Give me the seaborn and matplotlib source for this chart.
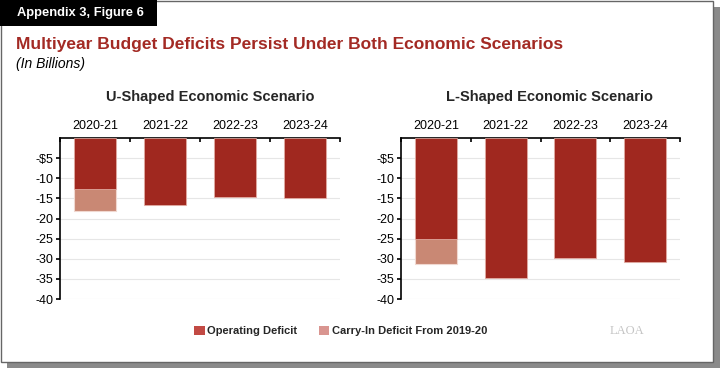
import pandas as pd
import matplotlib.pyplot as plt
import seaborn as sns
from matplotlib.patches import Rectangle, Patch

# Data (billions)
years = ['2020-21', '2021-22', '2022-23', '2023-24']
u_operating = [-12.6, -16.7, -14.7, -15.0]
u_carry_in = [-5.5, 0, 0, 0]
l_operating = [-25.0, -34.7, -29.7, -30.7]
l_carry_in = [-6.3, 0, 0, 0]

panel_titles = ['U-Shaped Economic Scenario', 'L-Shaped Economic Scenario']
y_ticks = [-5, -10, -15, -20, -25, -30, -35, -40]
y_tick_labels = ['-$5', '-10', '-15', '-20', '-25', '-30', '-35', '-40']

OPERATING = '#a0281f'
CARRY_IN = '#c98874'
TITLE_RED = '#a32a24'

sns.set_theme(style="white")
plt.rcParams['font.family'] = ['Liberation Sans', 'DejaVu Sans']

fig = plt.figure(figsize=(7.2, 3.68), dpi=100)

# frame with drop shadow
fig.patches.append(Rectangle((7 / 720, 0), 713 / 720, 361 / 368, transform=fig.transFigure,
                             facecolor='#8a8a8a', edgecolor='none', zorder=-3))
fig.patches.append(Rectangle((1 / 720, 6 / 368), 712 / 720, 361 / 368, transform=fig.transFigure,
                             facecolor='white', edgecolor='#666666', linewidth=1, zorder=-2))
# header tab
fig.patches.append(Rectangle((0, 1 - 26 / 368), 157 / 720, 26 / 368, transform=fig.transFigure,
                             facecolor='black', edgecolor='none', zorder=-1))
fig.text(17 / 720, 1 - 13 / 368, 'Appendix 3, Figure 6', color='white', fontsize=9.3,
         fontweight='bold', va='center', ha='left')
fig.text(16 / 720, 1 - 44 / 368, 'Multiyear Budget Deficits Persist Under Both Economic Scenarios',
         color=TITLE_RED, fontsize=12.5, fontweight='bold', va='center', ha='left')
fig.text(16 / 720, 1 - 64 / 368, '(In Billions)', color='black', fontsize=10,
         style='italic', va='center', ha='left')

panels = [
    (u_operating, u_carry_in, [60 / 720, 1 - 299 / 368, 280 / 720, 161 / 368], 210),
    (l_operating, l_carry_in, [401 / 720, 1 - 299 / 368, 279 / 720, 161 / 368], 549),
]

for (operating, carry_in, rect, title_x), title in zip(panels, panel_titles):
    ax = fig.add_axes(rect)
    df = pd.DataFrame({'year': years, 'operating': operating,
                       'total': [o + c for o, c in zip(operating, carry_in)]})
    sns.barplot(data=df, x='year', y='total', color=CARRY_IN, saturation=1, width=0.6,
                edgecolor='#f0d8d0', linewidth=0.8, ax=ax, zorder=2)
    sns.barplot(data=df, x='year', y='operating', color=OPERATING, saturation=1, width=0.6,
                edgecolor='#e8b8b0', linewidth=0.5, ax=ax, zorder=3)

    ax.set_ylim(-40, 0)
    ax.set_xlim(-0.5, 3.5)
    ax.set_yticks(y_ticks)
    ax.set_yticklabels(y_tick_labels)
    ax.yaxis.grid(True, color='#e6e6e6', linewidth=0.8)
    ax.set_axisbelow(True)
    ax.xaxis.tick_top()
    ax.set_xlabel('')
    ax.set_ylabel('')
    ax.set_xticks([-0.5, 0.5, 1.5, 2.5, 3.5], minor=True)
    ax.tick_params(axis='x', which='major', length=0, pad=4, labelsize=9, colors='black')
    ax.tick_params(axis='x', which='minor', direction='in', length=3, width=1.2, color='black')
    ax.tick_params(axis='y', which='major', direction='out', length=3, width=1.2,
                   labelsize=9, left=True, colors='black', pad=2)
    for side in ['right', 'bottom']:
        ax.spines[side].set_visible(False)
    ax.spines['top'].set_color('black')
    ax.spines['top'].set_linewidth(1.2)
    ax.spines['left'].set_color('black')
    ax.spines['left'].set_linewidth(1.2)

    fig.text(title_x / 720, 1 - 97 / 368, title, fontsize=10.5, fontweight='bold',
             ha='center', va='center')

handles = [Patch(facecolor='#c24a44', edgecolor='none'),
           Patch(facecolor='#d99590', edgecolor='none')]
fig.legend(handles, ['Operating Deficit', 'Carry-In Deficit From 2019-20'],
           loc='center left', bbox_to_anchor=(184 / 720, 1 - 331 / 368), ncol=2,
           frameon=False, handlelength=0.95, handleheight=0.95, handletextpad=0.25,
           columnspacing=1.9, prop={'weight': 'bold', 'size': 8})

fig.text(627 / 720, 1 - 331 / 368, 'LAOA', family='Liberation Serif', color='#c4c4c4',
         fontsize=9, ha='center', va='center')

fig.savefig('out.png', dpi=100)
